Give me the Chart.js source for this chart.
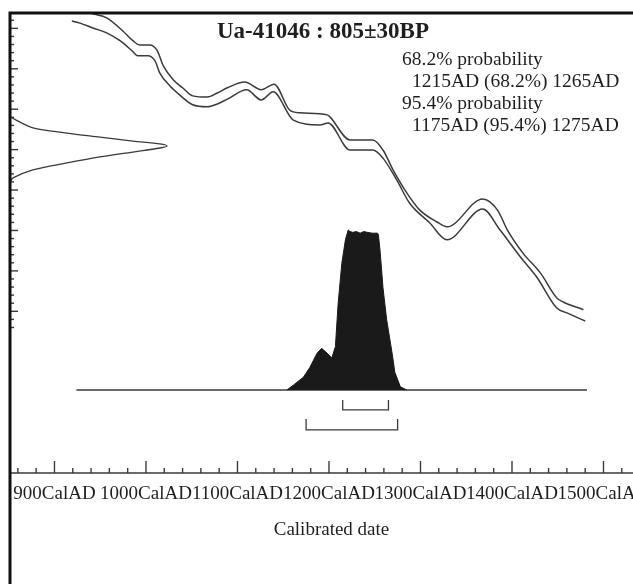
<!DOCTYPE html>
<html lang="en">
<head>
<meta charset="utf-8">
<title>Ua-41046 : 805±30BP</title>
<script src="https://cdn.jsdelivr.net/npm/chart.js@4.4.0/dist/chart.umd.min.js"></script>
<style>
    html, body { margin: 0; padding: 0; background: #fff; overflow: hidden; }
    #grafico { display: block; }
</style>
</head>
<body>
<canvas id="grafico" width="653" height="584"></canvas>
<script>
// Curva de calibración: línea superior (año calendario AD, edad BP)
const aniosCurvaSup = [919, 942, 957, 975, 985, 993, 1004, 1012, 1019, 1030, 1040, 1051, 1067, 1078, 1089, 1108, 1126, 1140, 1157, 1168, 1198, 1201, 1223, 1248, 1259, 1270, 1285, 1299, 1318, 1329, 1368, 1384, 1395, 1412, 1431, 1449, 1456, 1478];
const bpCurvaSup = [1153, 1136, 1126, 1093, 1071, 1059, 1059, 1046, 1007, 972, 953, 933, 930, 940, 953, 967, 948, 962, 898, 891, 886, 881, 824, 824, 799, 750, 693, 651, 621, 609, 678, 651, 601, 544, 495, 433, 423, 404];

// Curva de calibración: línea inferior
const aniosCurvaInf = [919, 928, 942, 957, 972, 985, 991, 1002, 1010, 1015, 1026, 1037, 1051, 1067, 1078, 1089, 1110, 1126, 1139, 1161, 1190, 1199, 1223, 1248, 1259, 1274, 1288, 1310, 1329, 1368, 1387, 1409, 1427, 1449, 1460, 1480];
const bpCurvaInf = [1118, 1113, 1101, 1089, 1069, 1044, 1032, 1032, 1019, 990, 958, 935, 911, 906, 913, 925, 948, 923, 943, 873, 861, 866, 799, 799, 779, 725, 668, 619, 577, 653, 601, 535, 485, 408, 396, 376];

// Medición radiocarbónica (805±30BP) sobre el eje vertical
const bpMedicion = [881, 854, 841, 831, 821, 814, 809, 804, 794, 782, 767, 750, 730, 720];
const densidadMedicion = [0, 0.146, 0.363, 0.573, 0.783, 0.955, 1, 0.955, 0.783, 0.573, 0.363, 0.146, 0.019, 0];

// Distribución calibrada
const aniosDistribucion = [1154, 1161, 1172, 1179, 1187, 1192, 1198, 1203, 1207, 1210, 1214, 1218, 1221, 1223, 1226, 1230, 1234, 1238, 1242, 1247, 1253, 1254, 1256, 1259, 1263, 1269, 1272, 1278, 1285];
const probDistribucion = [0, 0.03, 0.08, 0.14, 0.23, 0.26, 0.23, 0.20, 0.27, 0.54, 0.79, 0.94, 1.0, 0.99, 0.985, 0.99, 0.98, 0.99, 0.985, 0.98, 0.98, 0.97, 0.86, 0.64, 0.44, 0.23, 0.11, 0.02, 0];
const extremosBase = [924, 1482];

// Rangos de probabilidad
const rango68 = [1215, 1265];
const rango95 = [1175, 1275];

// Etiquetas y textos
const etiquetasAnios = [900, 1000, 1100, 1200, 1300, 1400, 1500];
const sufijoAnio = 'CalAD';
const inicioMarcasBP = 360;
const titulo = 'Ua-41046 : 805±30BP';
const lineasProbabilidad = [
    ['68.2% probability', 0],
    ['1215AD (68.2%) 1265AD', 1],
    ['95.4% probability', 0],
    ['1175AD (95.4%) 1275AD', 1],
];

const colorTinta = '#1e1e1e';
const colorLinea = '#3a3a3a';
const fuente = "'Liberation Serif', 'Times New Roman', serif";

// Convertir dos arrays en puntos {x, y}
function aPuntos(xs, ys) {
    return xs.map((x, i) => ({ x: x, y: ys[i] }));
}

// Construir un corchete de rango (nivel y altura de los extremos en unidades del eje py)
function corchete(rango, nivel, alto) {
    return [
        { x: rango[0], y: alto },
        { x: rango[0], y: nivel },
        { x: rango[1], y: nivel },
        { x: rango[1], y: alto },
    ];
}

// Plugin: marcas hacia dentro, marco y textos
const marcoOxcal = {
    id: 'marcoOxcal',
    afterDraw(chart) {
        const ctx = chart.ctx;
        const area = chart.chartArea;
        const ex = chart.scales.x;
        const ey = chart.scales.y;
        ctx.save();
        ctx.strokeStyle = colorLinea;

        // Eje de fechas calibradas
        ctx.lineWidth = 1.4;
        ctx.beginPath();
        ctx.moveTo(area.left, area.bottom);
        ctx.lineTo(area.right, area.bottom);
        ctx.stroke();
        for (let v = Math.ceil(ex.min / 20) * 20; v <= ex.max; v += 20) {
            const px = ex.getPixelForValue(v);
            const largo = v % 100 === 0 ? 12 : 5;
            ctx.beginPath();
            ctx.moveTo(px, area.bottom);
            ctx.lineTo(px, area.bottom - largo);
            ctx.stroke();
        }

        // Marcas del eje BP
        for (let v = inicioMarcasBP; v <= ey.max; v += 20) {
            const py = ey.getPixelForValue(v);
            const largo = v % 100 === 0 ? 8 : 4;
            ctx.beginPath();
            ctx.moveTo(area.left, py);
            ctx.lineTo(area.left + largo, py);
            ctx.stroke();
        }

        // Marco
        ctx.strokeStyle = '#111';
        ctx.lineWidth = 3;
        ctx.beginPath();
        ctx.moveTo(area.left, chart.height);
        ctx.lineTo(area.left, area.top);
        ctx.lineTo(chart.width, area.top);
        ctx.stroke();

        // Textos
        ctx.fillStyle = colorTinta;
        ctx.textBaseline = 'alphabetic';
        ctx.textAlign = 'left';
        ctx.font = 'bold 23px ' + fuente;
        ctx.fillText(titulo, 217, 38);
        ctx.font = '19.5px ' + fuente;
        lineasProbabilidad.forEach((linea, i) => {
            ctx.fillText(linea[0], 402 + linea[1] * 10, 65 + i * 22);
        });
        ctx.restore();
    }
};

const estiloLinea = {
    borderColor: colorLinea,
    borderWidth: 1.5,
    pointRadius: 0,
    fill: false,
    tension: 0,
};

new Chart(document.getElementById('grafico'), {
    type: 'line',
    data: {
        datasets: [
            { ...estiloLinea, cubicInterpolationMode: 'monotone', data: aPuntos(aniosCurvaSup, bpCurvaSup), xAxisID: 'x', yAxisID: 'y' },
            { ...estiloLinea, cubicInterpolationMode: 'monotone', data: aPuntos(aniosCurvaInf, bpCurvaInf), xAxisID: 'x', yAxisID: 'y' },
            { ...estiloLinea, borderWidth: 1.3, tension: 0.3, data: aPuntos(densidadMedicion, bpMedicion), xAxisID: 'gx', yAxisID: 'y' },
            {
                ...estiloLinea, borderWidth: 1, borderColor: '#1a1a1a', backgroundColor: '#1a1a1a', fill: 'origin',
                data: aPuntos(aniosDistribucion, probDistribucion), xAxisID: 'x', yAxisID: 'py'
            },
            { ...estiloLinea, data: aPuntos(extremosBase, [0, 0]), xAxisID: 'x', yAxisID: 'py' },
            { ...estiloLinea, borderWidth: 1.3, data: corchete(rango68, -0.125, -0.0625), xAxisID: 'x', yAxisID: 'py' },
            { ...estiloLinea, borderWidth: 1.3, data: corchete(rango95, -0.25, -0.181), xAxisID: 'x', yAxisID: 'py' },
        ],
    },
    options: {
        responsive: false,
        animation: false,
        layout: { padding: { left: 10, top: 13, right: 0, bottom: 0 } },
        plugins: { legend: { display: false }, tooltip: { enabled: false } },
        scales: {
            x: {
                type: 'linear',
                position: 'bottom',
                min: 851.4,
                max: 1554.1,
                // altura fija del eje y sin relleno lateral por las etiquetas
                afterFit: s => { s.height = 111; s.paddingLeft = 0; s.paddingRight = 0; },
                afterBuildTicks: s => { s.ticks = etiquetasAnios.map(v => ({ value: v })); },
                grid: { display: false, drawTicks: false },
                border: { display: false },
                ticks: {
                    autoSkip: false,
                    maxRotation: 0,
                    minRotation: 0,
                    padding: 10,
                    color: colorTinta,
                    font: { family: fuente, size: 19 },
                    callback: v => v + sufijoAnio,
                },
                title: {
                    display: true,
                    text: 'Calibrated date',
                    color: colorTinta,
                    font: { family: fuente, size: 19 },
                    padding: { top: 4, bottom: 43 },
                },
            },
            y: { type: 'linear', display: false, min: 0, max: 1138 },
            py: { type: 'linear', axis: 'y', display: false, min: -0.519, max: 2.356 },
            gx: { type: 'linear', axis: 'x', display: false, min: 0, max: 4.096 },
        },
    },
    plugins: [marcoOxcal],
});
</script>
</body>
</html>
